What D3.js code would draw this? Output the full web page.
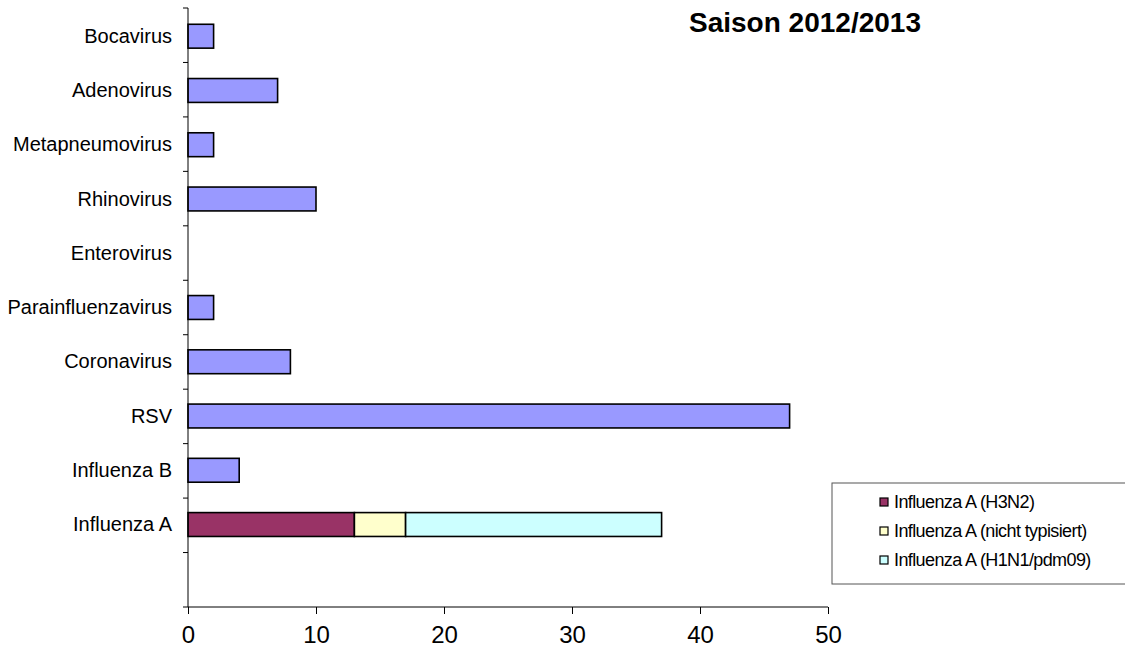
<!DOCTYPE html>
<html>
<head>
<meta charset="utf-8">
<script src="https://cdn.jsdelivr.net/npm/d3@7"></script>
<style>
  body { margin: 0; background: #fff; }
  text { font-family: "Liberation Sans", Arial, sans-serif; fill: #000; }
</style>
</head>
<body>
<div id="chart"></div>
<script>
const categories = ["Bocavirus", "Adenovirus", "Metapneumovirus", "Rhinovirus", "Enterovirus",
  "Parainfluenzavirus", "Coronavirus", "RSV", "Influenza B", "Influenza A", ""];
const otherValues = [2, 7, 2, 10, 0, 2, 8, 47, 4, null, null];
const fluASeries = ["Influenza A (H3N2)", "Influenza A (nicht typisiert)", "Influenza A (H1N1/pdm09)"];
const fluAValues = [13, 4, 20];
const fluAColors = ["#993366", "#FFFFCC", "#CCFFFF"];
const xTicks = [0, 10, 20, 30, 40, 50];
const title = "Saison 2012/2013";

const width = 1125, height = 659;
const margin = { left: 188, top: 8, right: 297, bottom: 52 };

const svg = d3.select("#chart").append("svg")
  .attr("width", width)
  .attr("height", height);

let x = d3.scaleLinear()
  .domain([0, 50])
  .range([margin.left, width - margin.right]);

let y = d3.scaleBand()
  .domain(categories.map((d, i) => i))
  .range([margin.top, height - margin.bottom])
  .paddingInner(0.56)
  .paddingOuter(0.3);

// plain bars
svg.selectAll("rect.other")
  .data(otherValues.map((v, i) => ({ v, i })).filter(d => d.v))
  .enter().append("rect")
  .attr("class", "other")
  .attr("x", x(0))
  .attr("y", d => y(d.i))
  .attr("width", d => x(d.v) - x(0))
  .attr("height", y.bandwidth())
  .attr("fill", "#9999FF")
  .attr("stroke", "#000")
  .attr("stroke-width", 1.6);

// stacked Influenza A
let fluIdx = categories.indexOf("Influenza A");
let cum = 0;
let stacked = fluAValues.map((v, i) => {
  let s = { x0: cum, x1: cum + v, c: fluAColors[i] };
  cum += v;
  return s;
});
svg.selectAll("rect.flu")
  .data(stacked)
  .enter().append("rect")
  .attr("class", "flu")
  .attr("x", d => x(d.x0))
  .attr("y", y(fluIdx))
  .attr("width", d => x(d.x1) - x(d.x0))
  .attr("height", y.bandwidth())
  .attr("fill", d => d.c)
  .attr("stroke", "#000")
  .attr("stroke-width", 1.6);

// y axis line + ticks at band boundaries
const y0 = margin.top, y1 = height - margin.bottom;
svg.append("line")
  .attr("x1", x(0)).attr("x2", x(0))
  .attr("y1", y0).attr("y2", y1)
  .attr("stroke", "#000");
svg.selectAll("line.ytick")
  .data(d3.range(categories.length + 1))
  .enter().append("line")
  .attr("class", "ytick")
  .attr("x1", x(0) - 5).attr("x2", x(0))
  .attr("y1", i => y0 + i * (y1 - y0) / categories.length)
  .attr("y2", i => y0 + i * (y1 - y0) / categories.length)
  .attr("stroke", "#000");

svg.selectAll("text.ylab")
  .data(categories)
  .enter().append("text")
  .attr("class", "ylab")
  .attr("x", x(0) - 16)
  .attr("y", (d, i) => y(i) + y.bandwidth() / 2)
  .attr("dy", "0.33em")
  .attr("text-anchor", "end")
  .style("font-size", "20px")
  .text(d => d);

// x axis
let xAxis = d3.axisBottom(x).tickValues(xTicks).tickSize(7).tickPadding(12);
let xg = svg.append("g")
  .attr("transform", "translate(0," + y1 + ")")
  .call(xAxis);
xg.select(".domain").attr("stroke", "#000").attr("d", "M" + x(0) + ",0H" + x(50));
xg.selectAll(".tick line").attr("stroke", "#000");
xg.selectAll(".tick text")
  .style("font-size", "24px")
  .style("font-family", "'Liberation Sans', Arial, sans-serif")
  .attr("fill", "#000");

// title
svg.append("text")
  .attr("x", 805)
  .attr("y", 32)
  .attr("text-anchor", "middle")
  .style("font-size", "28px")
  .style("font-weight", "bold")
  .text(title);

// legend
let lg = svg.append("g").attr("transform", "translate(832,483)");
lg.append("rect")
  .attr("width", 300).attr("height", 101)
  .attr("fill", "#fff")
  .attr("stroke", "#555")
  .attr("stroke-width", 1);
let items = lg.selectAll("g.item")
  .data(fluASeries)
  .enter().append("g")
  .attr("transform", (d, i) => "translate(48," + (19 + i * 29) + ")");
items.append("rect")
  .attr("x", 0).attr("y", -4)
  .attr("width", 8).attr("height", 8)
  .attr("fill", (d, i) => fluAColors[i])
  .attr("stroke", "#000")
  .attr("stroke-width", 1.2);
items.append("text")
  .attr("x", 14)
  .attr("dy", "0.35em")
  .style("font-size", "18px")
  .style("letter-spacing", "-0.6px")
  .text(d => d);
</script>
</body>
</html>
